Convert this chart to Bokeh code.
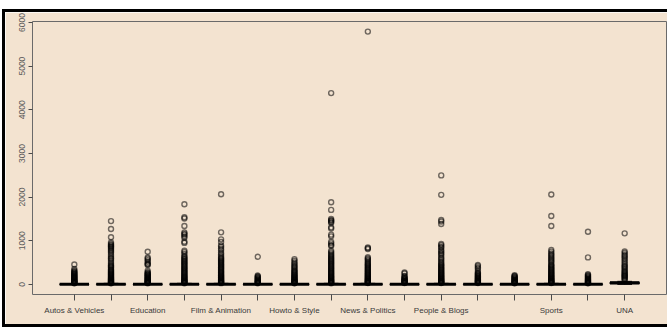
from bokeh.plotting import figure
from bokeh.models import FixedTicker, Range1d, ColumnDataSource
from bokeh.embed import file_html
from bokeh.resources import INLINE

categories = ["Autos & Vehicles", "Comedy", "Education", "Entertainment",
              "Film & Animation", "Gaming", "Howto & Style", "Music",
              "News & Politics", "Nonprofits & Activism", "People & Blogs",
              "Pets & Animals", "Science & Technology", "Sports",
              "Travel & Events", "UNA"]
# labels R could fit without overlap (others are dropped in the reference)
tick_labels = ["Autos & Vehicles", "", "Education", "", "Film & Animation", "",
               "Howto & Style", "", "News & Politics", "", "People & Blogs", "",
               "", "Sports", "", "UNA"]
y_ticks = [0, 1000, 2000, 3000, 4000, 5000, 6000]

q1 = [0, 0, 0, 0, 0, 0, 0, 0, 0, 0, 0, 0, 0, 0, 0, 12]
med = [2, 3, 2, 3, 3, 2, 2, 3, 3, 2, 3, 2, 2, 3, 2, 35]
q3 = [8, 10, 8, 10, 10, 8, 8, 10, 10, 8, 10, 8, 8, 10, 8, 50]
whisk_lo = [0, 0, 0, 0, 0, 0, 0, 0, 0, 0, 0, 0, 0, 0, 0, 0]
whisk_hi = [20, 24, 20, 24, 24, 20, 20, 24, 24, 20, 24, 20, 20, 24, 20, 70]

out_autos = [456, 352, 318, 296, 281, 262, 248, 233, 219, 204, 190, 177, 163,
             151, 139, 126, 114, 103, 92, 81, 71, 62, 53, 45, 38, 31, 25]
out_comedy = [1450, 1270, 1080, 960, 925, 905, 880, 862, 840, 810, 780, 756,
              720, 680, 640, 603, 580, 545, 505, 470, 440, 425, 400, 380, 350,
              332, 315, 298, 280, 262, 246, 230, 214, 199, 184, 170, 156, 143,
              130, 118, 106, 95, 84, 74, 64, 55, 47, 39, 32, 26]
out_education = [748, 615, 590, 556, 520, 480, 462, 445, 311, 280, 262, 245,
                 232, 218, 204, 190, 176, 163, 150, 137, 124, 112, 100, 89, 78,
                 68, 58, 49, 41, 34, 27]
out_entertainment = [1836, 1537, 1510, 1338, 1192, 1160, 1139, 1100, 1070, 978,
                     950, 771, 740, 700, 654, 630, 606, 584, 560, 538, 515, 493,
                     470, 449, 428, 406, 385, 364, 344, 324, 304, 285, 266, 248,
                     230, 212, 195, 178, 162, 146, 131, 117, 103, 90, 77, 65,
                     54, 44, 35, 27]
out_film = [2066, 1192, 1032, 971, 894, 860, 817, 780, 725, 690, 650, 617, 595,
            572, 550, 528, 506, 485, 463, 442, 421, 400, 380, 360, 340, 320,
            301, 282, 264, 246, 229, 212, 196, 180, 165, 150, 136, 122, 109,
            97, 85, 74, 63, 53, 44, 36, 28]
out_gaming = [632, 205, 188, 172, 157, 143, 129, 116, 103, 91, 80, 69, 59, 50,
              42, 34, 27]
out_howto = [579, 540, 503, 470, 440, 410, 388, 360, 331, 310, 290, 271, 252,
             234, 217, 200, 184, 168, 153, 139, 125, 112, 100, 88, 77, 67, 57,
             48, 40, 32, 26]
out_music = [4381, 1882, 1706, 1500, 1470, 1460, 1430, 1414, 1307, 1280, 1139,
             1100, 978, 940, 900, 886, 771, 740, 710, 680, 654, 630, 606, 584,
             560, 538, 515, 493, 470, 449, 428, 406, 385, 364, 344, 324, 304,
             285, 266, 248, 230, 212, 195, 178, 162, 146, 131, 117, 103, 90,
             77, 65, 54, 44, 35, 27]
out_news = [5790, 847, 830, 809, 620, 595, 570, 541, 510, 485, 464, 442, 420,
            399, 378, 358, 338, 318, 299, 280, 262, 244, 227, 210, 194, 178,
            163, 148, 134, 121, 108, 96, 85, 74, 64, 54, 45, 37, 29]
out_nonprofit = [272, 250, 196, 180, 153, 140, 127, 115, 103, 92, 81, 71, 61,
                 52, 44, 36, 29]
out_people = [2496, 2051, 1476, 1440, 1384, 924, 900, 863, 840, 786, 760, 720,
              695, 660, 618, 590, 556, 520, 490, 464, 442, 420, 399, 378, 358,
              338, 318, 299, 280, 262, 244, 227, 210, 194, 178, 163, 148, 134,
              121, 108, 96, 85, 74, 64, 54, 45, 37, 29]
out_pets = [448, 420, 388, 360, 311, 273, 255, 238, 221, 205, 189, 174, 160,
            146, 133, 120, 108, 96, 85, 75, 65, 55, 46, 38, 30]
out_science = [211, 195, 180, 165, 151, 137, 124, 111, 99, 88, 77, 67, 57, 48,
               40, 32, 26]
out_sports = [2058, 1568, 1338, 786, 750, 710, 680, 650, 618, 590, 560, 530,
              500, 464, 442, 420, 399, 378, 358, 338, 318, 299, 280, 262, 244,
              227, 210, 194, 178, 163, 148, 134, 121, 108, 96, 85, 74, 64, 54,
              45, 37, 29]
out_travel = [1207, 618, 234, 216, 199, 183, 167, 152, 138, 125, 112, 100, 88,
              77, 67, 57, 48, 40, 32, 26]
out_una = [1169, 755, 720, 679, 650, 618, 580, 541, 500, 464, 430, 403, 380,
           350, 320, 295, 273, 250, 230, 210, 196, 180, 160, 140, 119, 95]

outliers = [out_autos, out_comedy, out_education, out_entertainment, out_film,
            out_gaming, out_howto, out_music, out_news, out_nonprofit,
            out_people, out_pets, out_science, out_sports, out_travel, out_una]

BG = "#F3E3D0"
n = len(categories)
xs = list(range(1, n + 1))

all_vals = [v for o in outliers for v in o] + whisk_lo + whisk_hi
lo, hi = min(all_vals), max(all_vals)
pad = 0.04 * (hi - lo)
xpad = 0.04 * n

p = figure(width=665, height=318, output_backend="svg", toolbar_location=None,
           x_range=Range1d(0.5 - xpad, n + 0.5 + xpad),
           y_range=Range1d(lo - pad, hi + pad),
           background_fill_color=BG, border_fill_color=BG,
           min_border_left=27, min_border_right=4, min_border_top=9,
           min_border_bottom=36,
           styles={"margin-top": "9px", "margin-left": "2px",
                   "border-top": "3px solid black",
                   "border-left": "3px solid black",
                   "border-bottom": "3px solid black"})
p.outline_line_color = "#6a6a6a"
p.outline_line_width = 1
p.xgrid.visible = False
p.ygrid.visible = False

box_src = ColumnDataSource(dict(
    x=xs, left=[x - 0.4 for x in xs], right=[x + 0.4 for x in xs],
    sl=[x - 0.2 for x in xs], sr=[x + 0.2 for x in xs],
    q1=q1, q3=q3, med=med, lo=whisk_lo, hi=whisk_hi))

ox, oy = [], []
for x, o in zip(xs, outliers):
    ox += [x] * len(o)
    oy += o
p.scatter(ox, oy, marker="circle", size=5, fill_color=None,
          line_color="black", line_alpha=0.55, line_width=1.4)

p.segment(x0="x", y0="q3", x1="x", y1="hi", source=box_src,
          line_color="black", line_width=1, line_dash="4 3")
p.segment(x0="x", y0="q1", x1="x", y1="lo", source=box_src,
          line_color="black", line_width=1, line_dash="4 3")
p.segment(x0="sl", y0="hi", x1="sr", y1="hi", source=box_src,
          line_color="black", line_width=1)
p.segment(x0="sl", y0="lo", x1="sr", y1="lo", source=box_src,
          line_color="black", line_width=1)
p.quad(left="left", right="right", bottom="q1", top="q3", source=box_src,
       fill_color=None, line_color="black", line_width=1)
p.segment(x0="left", y0="med", x1="right", y1="med", source=box_src,
          line_color="black", line_width=3)

FONT = "Liberation Sans"
p.xaxis.ticker = FixedTicker(ticks=xs)
p.xaxis.major_label_overrides = {x: lab for x, lab in zip(xs, tick_labels)}
p.xaxis.axis_line_color = None
p.xaxis.major_tick_line_color = "#4a4a4a"
p.xaxis.major_tick_out = 6
p.xaxis.major_tick_in = 0
p.xaxis.minor_tick_line_color = None
p.xaxis.major_label_standoff = 5
p.xaxis.major_label_text_font = FONT
p.xaxis.major_label_text_font_size = "8px"
p.xaxis.major_label_text_color = "#3a3a3a"

p.yaxis.ticker = FixedTicker(ticks=y_ticks)
p.yaxis.axis_line_color = None
p.yaxis.major_tick_line_color = "#4a4a4a"
p.yaxis.major_tick_out = 4
p.yaxis.major_tick_in = 0
p.yaxis.minor_tick_line_color = None
p.yaxis.major_label_orientation = "vertical"
p.yaxis.major_label_standoff = 3
p.yaxis.major_label_text_font = FONT
p.yaxis.major_label_text_font_size = "8.5px"
p.yaxis.major_label_text_color = "#5a5a5a"

open("out.html", "w").write(file_html(p, INLINE))
